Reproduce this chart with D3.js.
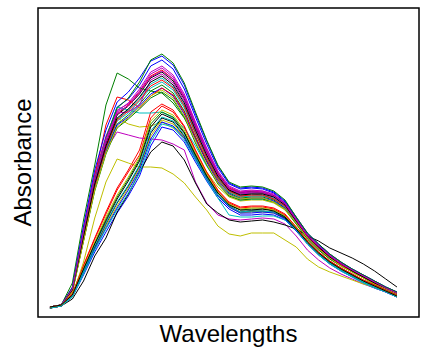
<!DOCTYPE html>
<html>
<head>
<meta charset="utf-8">
<script src="https://cdn.jsdelivr.net/npm/d3@7"></script>
<style>
  html, body { margin: 0; padding: 0; background: #fff; }
</style>
</head>
<body>
<div id="chart"></div>
<script>
// --- DATA (absorbance, one array per spectrum) ---
const wavelengths = [400, 410, 420, 430, 440, 450, 460, 470, 480, 490, 500, 510, 520, 530, 540, 550,
  560, 570, 580, 590, 600, 610, 620, 630, 640, 650, 660, 670, 680, 690, 700, 710];

const spec01 = [0.10,0.12,0.28,0.85,1.39,1.79,2.10,2.18,2.32,2.51,2.57,2.48,2.28,2.00,1.73,1.49,1.33,1.28,1.29,1.28,1.24,1.15,0.99,0.83,0.72,0.62,0.54,0.48,0.42,0.36,0.30,0.25];
const spec02 = [0.09,0.12,0.26,0.78,1.29,1.67,1.93,2.02,2.13,2.26,2.32,2.24,2.06,1.80,1.56,1.37,1.24,1.19,1.20,1.20,1.17,1.09,0.95,0.79,0.68,0.59,0.52,0.46,0.40,0.34,0.28,0.23];
const spec03 = [0.10,0.12,0.27,0.82,1.35,1.74,2.03,2.12,2.25,2.41,2.47,2.38,2.20,1.92,1.66,1.44,1.29,1.25,1.26,1.25,1.21,1.13,0.97,0.82,0.71,0.61,0.53,0.47,0.41,0.35,0.29,0.24];
const spec04 = [0.09,0.12,0.27,0.80,1.32,1.70,1.98,2.07,2.19,2.33,2.39,2.30,2.12,1.86,1.61,1.40,1.26,1.22,1.23,1.22,1.19,1.11,0.96,0.80,0.69,0.60,0.53,0.46,0.40,0.34,0.29,0.24];
const spec05 = [0.10,0.12,0.29,0.89,1.43,1.81,2.07,2.13,2.26,2.43,2.49,2.40,2.21,1.94,1.68,1.45,1.30,1.25,1.26,1.26,1.22,1.14,0.98,0.82,0.71,0.61,0.54,0.47,0.41,0.35,0.29,0.24];
const spec06 = [0.10,0.12,0.26,0.77,1.29,1.72,1.99,1.93,1.90,1.91,1.95,1.89,1.79,1.62,1.45,1.30,1.20,1.16,1.17,1.17,1.14,1.07,0.93,0.78,0.67,0.58,0.51,0.45,0.39,0.33,0.28,0.23];
const spec07 = [0.10,0.12,0.27,0.82,1.35,1.73,2.02,2.11,2.23,2.39,2.45,2.36,2.18,1.90,1.65,1.43,1.28,1.24,1.25,1.24,1.21,1.13,0.97,0.81,0.70,0.61,0.53,0.47,0.41,0.35,0.29,0.24];
const spec08 = [0.09,0.11,0.20,0.42,0.65,0.85,1.04,1.21,1.41,1.71,1.90,1.87,1.75,1.55,1.36,1.19,1.08,1.02,1.02,1.03,1.02,0.97,0.86,0.73,0.62,0.53,0.46,0.40,0.34,0.29,0.25,0.20];
const spec09 = [0.10,0.12,0.34,0.97,1.52,2.12,2.44,2.38,2.29,2.26,2.24,2.14,1.99,1.79,1.57,1.39,1.27,1.23,1.24,1.24,1.21,1.13,0.98,0.81,0.70,0.61,0.53,0.46,0.40,0.34,0.29,0.24];
const spec10 = [0.10,0.12,0.23,0.52,0.79,1.05,1.29,1.47,1.67,2.05,2.13,2.07,1.91,1.67,1.45,1.27,1.15,1.10,1.11,1.11,1.09,1.03,0.90,0.76,0.65,0.56,0.49,0.43,0.37,0.32,0.27,0.22];
const spec11 = [0.10,0.12,0.27,0.81,1.35,1.79,2.10,2.07,2.04,2.04,2.05,1.99,1.89,1.71,1.51,1.34,1.22,1.17,1.18,1.18,1.15,1.08,0.94,0.79,0.68,0.59,0.52,0.46,0.40,0.34,0.28,0.23];
const spec12 = [0.10,0.12,0.27,0.79,1.32,1.67,1.85,1.82,1.79,1.78,1.77,1.73,1.67,1.35,1.14,1.02,0.98,0.97,0.98,0.99,0.98,0.93,0.81,0.67,0.57,0.49,0.43,0.38,0.33,0.29,0.25,0.21];
const spec13 = [0.09,0.11,0.21,0.55,0.99,1.35,1.58,1.54,1.50,1.50,1.49,1.43,1.34,1.20,1.07,0.91,0.83,0.81,0.84,0.84,0.84,0.77,0.70,0.58,0.50,0.45,0.41,0.37,0.33,0.30,0.26,0.20];
const spec14 = [0.09,0.11,0.18,0.36,0.61,0.79,1.05,1.23,1.45,1.65,1.75,1.71,1.57,1.34,1.13,1.04,0.97,0.95,0.96,0.97,0.95,0.92,0.88,0.81,0.76,0.69,0.64,0.59,0.53,0.46,0.38,0.30];
const spec15 = [0.09,0.12,0.26,0.77,1.28,1.65,1.92,2.00,2.11,2.23,2.29,2.21,2.03,1.78,1.55,1.35,1.23,1.18,1.19,1.19,1.16,1.09,0.94,0.79,0.68,0.59,0.52,0.46,0.40,0.34,0.28,0.23];
const spec16 = [0.10,0.12,0.22,0.48,0.74,0.98,1.20,1.38,1.58,1.93,2.05,2.00,1.85,1.63,1.42,1.24,1.13,1.07,1.08,1.08,1.07,1.01,0.89,0.75,0.64,0.55,0.48,0.42,0.36,0.31,0.26,0.21];
const spec17 = [0.10,0.12,0.28,0.85,1.41,1.92,2.20,2.17,2.09,2.21,2.29,2.22,2.05,1.80,1.57,1.37,1.25,1.20,1.21,1.21,1.18,1.10,0.95,0.80,0.69,0.60,0.52,0.46,0.40,0.34,0.29,0.24];
const spec18 = [0.09,0.12,0.26,0.79,1.30,1.68,1.96,2.04,2.16,2.29,2.35,2.27,2.09,1.83,1.59,1.38,1.25,1.20,1.21,1.21,1.18,1.10,0.95,0.80,0.69,0.60,0.52,0.46,0.40,0.34,0.29,0.24];
const spec19 = [0.10,0.12,0.27,0.81,1.34,1.72,2.04,2.05,2.12,2.37,2.43,2.34,2.16,1.89,1.64,1.42,1.28,1.23,1.24,1.24,1.20,1.12,0.97,0.81,0.70,0.61,0.53,0.47,0.41,0.35,0.29,0.24];
const spec20 = [0.09,0.11,0.21,0.45,0.69,0.91,1.11,1.29,1.49,1.81,1.97,1.93,1.80,1.59,1.39,1.21,1.10,1.04,1.05,1.05,1.04,0.99,0.87,0.74,0.63,0.54,0.47,0.41,0.35,0.30,0.26,0.21];
const spec21 = [0.09,0.11,0.21,0.46,0.70,0.93,1.14,1.31,1.51,1.84,1.99,1.95,1.81,1.60,1.40,1.22,1.11,1.05,1.06,1.06,1.05,0.99,0.88,0.74,0.63,0.54,0.47,0.41,0.35,0.30,0.26,0.21];
const spec22 = [0.09,0.11,0.21,0.44,0.68,0.89,1.09,1.27,1.47,1.78,1.95,1.91,1.79,1.58,1.38,1.21,1.10,1.04,1.04,1.05,1.04,0.98,0.87,0.74,0.63,0.54,0.47,0.41,0.35,0.30,0.25,0.20];
const spec23 = [0.09,0.12,0.25,0.76,1.26,1.63,1.89,1.98,2.08,2.19,2.25,2.17,2.00,1.74,1.52,1.33,1.21,1.17,1.18,1.18,1.15,1.08,0.93,0.78,0.67,0.58,0.51,0.45,0.39,0.33,0.28,0.23];
const spec24 = [0.09,0.12,0.26,0.79,1.31,1.69,1.97,2.06,2.17,2.31,2.37,2.29,2.11,1.84,1.60,1.39,1.26,1.21,1.22,1.22,1.18,1.11,0.96,0.80,0.69,0.60,0.52,0.46,0.40,0.34,0.29,0.24];
const spec25 = [0.09,0.11,0.20,0.43,0.67,0.88,1.07,1.24,1.44,1.75,1.93,1.90,1.77,1.57,1.37,1.19,1.02,1.00,1.00,1.01,1.01,0.97,0.87,0.73,0.62,0.53,0.46,0.40,0.34,0.29,0.25,0.20];
const spec26 = [0.10,0.12,0.28,0.84,1.37,1.76,2.06,2.14,2.28,2.45,2.51,2.42,2.23,1.95,1.69,1.46,1.31,1.26,1.27,1.26,1.23,1.14,0.98,0.82,0.71,0.62,0.54,0.47,0.41,0.35,0.29,0.24];
const spec27 = [0.09,0.12,0.25,0.76,1.27,1.64,1.90,1.99,2.10,2.21,2.27,2.19,2.01,1.76,1.53,1.34,1.22,1.18,1.19,1.19,1.15,1.08,0.94,0.79,0.68,0.59,0.51,0.45,0.39,0.33,0.28,0.23];
const spec28 = [0.09,0.12,0.27,0.81,1.33,1.71,1.99,2.08,2.20,2.35,2.41,2.32,2.14,1.87,1.62,1.41,1.27,1.22,1.23,1.23,1.20,1.12,0.96,0.81,0.70,0.60,0.53,0.46,0.40,0.34,0.29,0.24];
const spec29 = [0.10,0.12,0.30,0.91,1.47,1.87,2.15,2.25,2.39,2.56,2.61,2.52,2.32,2.03,1.76,1.51,1.34,1.29,1.30,1.29,1.25,1.16,1.00,0.84,0.73,0.63,0.55,0.48,0.42,0.36,0.30,0.25];
const spec30 = [0.10,0.12,0.29,0.85,1.39,1.79,2.09,2.19,2.35,2.57,2.63,2.54,2.34,2.05,1.77,1.52,1.35,1.30,1.31,1.30,1.26,1.17,1.00,0.84,0.73,0.63,0.55,0.48,0.42,0.36,0.30,0.25];
const spec31 = [0.10,0.12,0.23,0.51,0.78,1.03,1.27,1.45,1.62,1.99,2.11,2.05,1.90,1.66,1.44,1.26,1.14,1.09,1.10,1.10,1.08,1.02,0.90,0.76,0.65,0.56,0.49,0.43,0.37,0.32,0.27,0.22];
const spec32 = [0.09,0.11,0.21,0.46,0.71,0.94,1.15,1.32,1.52,1.86,2.00,1.96,1.82,1.60,1.40,1.22,1.11,1.05,1.06,1.06,1.05,1.00,0.88,0.74,0.63,0.54,0.47,0.41,0.35,0.30,0.26,0.21];
const spec33 = [0.10,0.12,0.28,0.86,1.40,1.78,2.05,2.11,2.24,2.40,2.46,2.38,2.19,1.92,1.66,1.43,1.28,1.24,1.25,1.25,1.21,1.13,0.97,0.81,0.71,0.61,0.53,0.47,0.41,0.35,0.29,0.24];
const spec34 = [0.10,0.12,0.22,0.49,0.75,1.00,1.22,1.40,1.60,1.96,2.07,2.02,1.87,1.64,1.43,1.25,1.13,1.08,1.09,1.09,1.07,1.01,0.89,0.75,0.64,0.55,0.48,0.42,0.36,0.31,0.26,0.21];
const spec35 = [0.10,0.12,0.22,0.48,0.73,0.96,1.18,1.36,1.56,1.90,2.03,1.98,1.84,1.62,1.41,1.24,1.12,1.07,1.07,1.08,1.06,1.00,0.88,0.75,0.64,0.55,0.48,0.42,0.36,0.31,0.26,0.21];

const spectra = [spec01, spec02, spec03, spec04, spec05, spec06, spec07, spec08, spec09, spec10,
  spec11, spec12, spec13, spec14, spec15, spec16, spec17, spec18, spec19, spec20,
  spec21, spec22, spec23, spec24, spec25, spec26, spec27, spec28, spec29, spec30,
  spec31, spec32, spec33, spec34, spec35];

// matplotlib "classic" colour cycle b g r c m y k
const lineColors = ["#0000ff", "#008000", "#ff0000", "#00bfbf", "#bf00bf", "#bfbf00", "#000000"];

// --- SETUP ---
const totalWidth = 427;
const totalHeight = 350;
const frame = { left: 38, top: 8, right: 419, bottom: 317 };

const svg = d3
  .select("#chart")
  .append("svg")
  .attr("width", totalWidth)
  .attr("height", totalHeight);

// --- SCALES ---
const x = d3.scaleLinear().domain([389.3, 729.7]).range([frame.left, frame.right]);
const y = d3.scaleLinear().domain([0, 3.09]).range([frame.bottom, frame.top]);

const line = d3
  .line()
  .x((d, i) => x(wavelengths[i]))
  .y((d) => y(d));

// --- LINES ---
svg
  .append("g")
  .selectAll("path")
  .data(spectra)
  .join("path")
  .attr("d", line)
  .attr("fill", "none")
  .attr("stroke", (d, i) => lineColors[i % lineColors.length])
  .attr("stroke-width", 1)
  .attr("stroke-linejoin", "round");

// frame, no ticks
svg
  .append("rect")
  .attr("x", frame.left)
  .attr("y", frame.top)
  .attr("width", frame.right - frame.left)
  .attr("height", frame.bottom - frame.top)
  .attr("fill", "none")
  .attr("stroke", "#000")
  .attr("stroke-width", 1.5);

// --- AXIS TITLES ---
svg
  .append("text")
  .attr("x", (frame.left + frame.right) / 2)
  .attr("y", 342)
  .attr("text-anchor", "middle")
  .style("font-family", "'Liberation Sans', Arial, sans-serif")
  .style("font-size", "24px")
  .text("Wavelengths");

svg
  .append("text")
  .attr("transform", `translate(31,${(frame.top + frame.bottom) / 2}) rotate(-90)`)
  .attr("text-anchor", "middle")
  .style("font-family", "'Liberation Sans', Arial, sans-serif")
  .style("font-size", "24px")
  .text("Absorbance");
</script>
</body>
</html>
